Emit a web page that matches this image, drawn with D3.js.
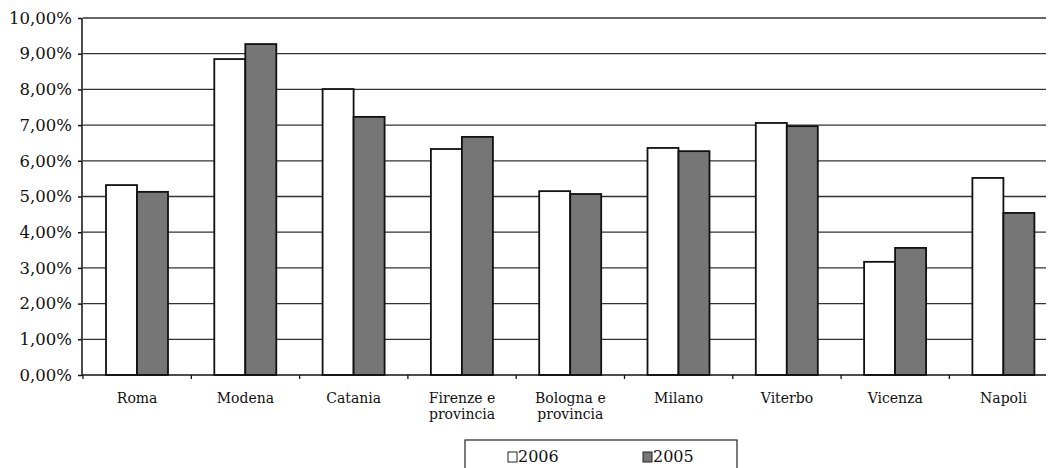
<!DOCTYPE html>
<html>
<head>
<meta charset="utf-8">
<script src="https://cdn.jsdelivr.net/npm/d3@7"></script>
<style>
	body { margin: 0; background: #fff; }
	svg { display: block; }
	.tick text { font-family: 'DejaVu Serif', serif; fill: #111; }
</style>
</head>
<body>
<div id="chart"></div>
<script>
// Chart data
const categories = ['Roma', 'Modena', 'Catania', 'Firenze e\nprovincia', 'Bologna e\nprovincia', 'Milano', 'Viterbo', 'Vicenza', 'Napoli'];
const series = ['2006', '2005'];
const values2006 = [5.32, 8.85, 8.01, 6.33, 5.15, 6.36, 7.06, 3.17, 5.52];
const values2005 = [5.13, 9.27, 7.23, 6.67, 5.07, 6.27, 6.97, 3.56, 4.54];
const yTicks = [0, 1, 2, 3, 4, 5, 6, 7, 8, 9, 10];

const width = 1048;
const height = 468;
const margin = {top: 18, left: 83, bottom: 93};
const plotRight = 1046;

const colours = {'2006': '#ffffff', '2005': '#767676'};

const svg = d3.select('#chart').append('svg').attr('width', width).attr('height', height);

// Scales
const x = d3.scaleBand().domain(categories).range([margin.left, margin.left + 9 * 108.3]).paddingInner(0).paddingOuter(0);
const xSeries = d3.scaleBand().domain(series).range([23, 85]);
const y = d3.scaleLinear().domain([0, 10]).range([height - margin.bottom, margin.top]);

// Gridlines
svg.append('g')
	.selectAll('line')
	.data(yTicks.filter((d) => d > 0))
	.enter()
	.append('line')
	.attr('x1', margin.left)
	.attr('x2', plotRight)
	.attr('y1', (d) => y(d))
	.attr('y2', (d) => y(d))
	.style('stroke', '#333')
	.style('stroke-width', 1.3);

// Y axis
const yAxis = svg.append('g')
	.attr('transform', `translate(${margin.left - 1},0)`)
	.call(d3.axisLeft(y).tickValues(yTicks).tickSize(4).tickPadding(6)
		.tickFormat((d) => d.toFixed(2).replace('.', ',') + '%'));
yAxis.selectAll('text').style('font-size', '16.5px');
yAxis.selectAll('line, path').style('stroke', '#111').style('stroke-width', 1.5);
yAxis.select('.domain').attr('d', `M0,${y(0)}V${y(10)}`);

// Bars
const groups = svg.append('g')
	.selectAll('g')
	.data(categories.map((c, i) => ({cat: c, vals: [values2006[i], values2005[i]]})))
	.enter()
	.append('g')
	.attr('transform', (d) => `translate(${x(d.cat)},0)`);

groups.selectAll('rect')
	.data((d) => d.vals.map((v, j) => ({key: series[j], value: v})))
	.enter()
	.append('rect')
	.attr('x', (d) => xSeries(d.key))
	.attr('width', xSeries.bandwidth())
	.attr('y', (d) => y(d.value))
	.attr('height', (d) => y(0) - y(d.value))
	.attr('fill', (d) => colours[d.key])
	.attr('stroke', '#111')
	.attr('stroke-width', 1.8);

// X axis
const xAxis = svg.append('g')
	.attr('transform', `translate(0,${y(0)})`);
xAxis.append('line')
	.attr('x1', margin.left - 1)
	.attr('x2', plotRight)
	.style('stroke', '#111')
	.style('stroke-width', 1.5);
xAxis.selectAll('.sep')
	.data(categories)
	.enter()
	.append('line')
	.attr('x1', (d) => x(d))
	.attr('x2', (d) => x(d))
	.attr('y1', 0)
	.attr('y2', 4)
	.style('stroke', '#111')
	.style('stroke-width', 1.3);

// Category labels
const labels = xAxis.selectAll('text')
	.data(categories)
	.enter()
	.append('text')
	.attr('x', (d) => x(d) + x.bandwidth() / 2)
	.attr('y', 28)
	.attr('text-anchor', 'middle')
	.style('font-family', 'DejaVu Serif, serif')
	.style('font-size', '14px')
	.style('fill', '#111');
labels.selectAll('tspan')
	.data((d) => d.split('\n'))
	.enter()
	.append('tspan')
	.attr('x', function () { return this.parentNode.getAttribute('x'); })
	.attr('dy', (d, i) => (i === 0 ? 0 : 16))
	.text((d) => d);

// Legend
const legend = svg.append('g');
legend.append('rect')
	.attr('x', 465)
	.attr('y', 440)
	.attr('width', 272)
	.attr('height', 40)
	.attr('fill', '#fff')
	.attr('stroke', '#222')
	.attr('stroke-width', 1.2);

const legendX = [508, 643];
series.forEach((s, i) => {
	legend.append('rect')
		.attr('x', legendX[i])
		.attr('y', 452)
		.attr('width', 9)
		.attr('height', 10)
		.attr('fill', colours[s])
		.attr('stroke', '#222')
		.attr('stroke-width', 1);
	legend.append('text')
		.attr('x', legendX[i] + 10)
		.attr('y', 462)
		.style('font-family', 'DejaVu Serif, serif')
		.style('font-size', '16px')
		.style('fill', '#111')
		.text(s);
});
</script>
</body>
</html>
